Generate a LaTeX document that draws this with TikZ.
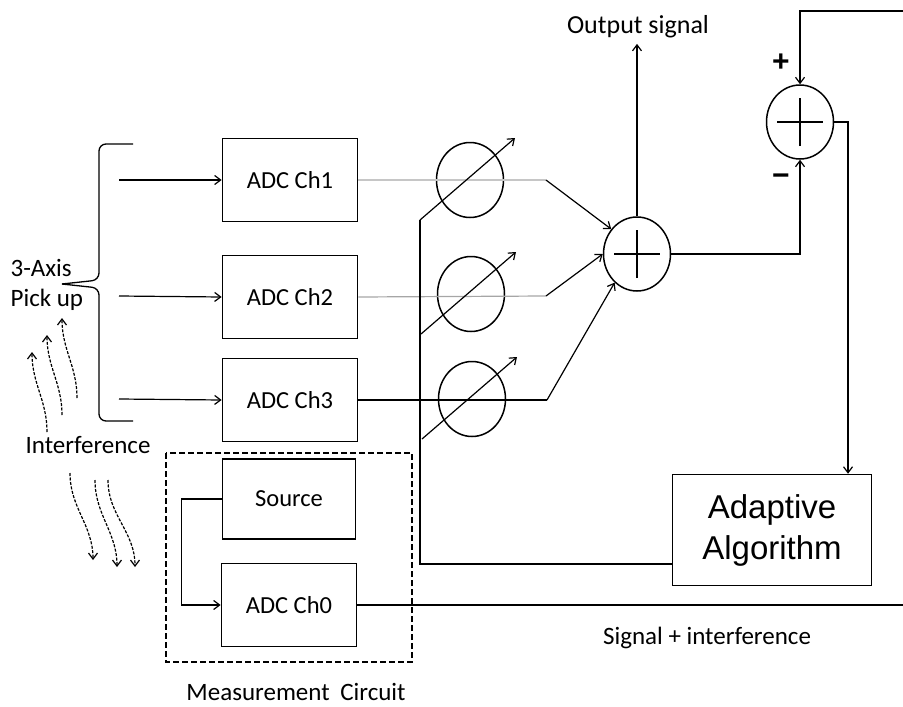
\documentclass[tikz,border=0pt]{standalone}
\usepackage{fontspec}
\setmainfont{Carlito}
\newfontfamily\arialfont{Liberation Sans}
\usetikzlibrary{arrows.meta,shapes.geometric}
\tikzset{
  blockbox/.style={draw, line width=1.8pt, minimum width=135pt, minimum height=83pt, inner sep=0pt, font=\fontsize{24.5}{29}\selectfont},
  weight/.style={draw, ellipse, line width=1.5pt, minimum width=67pt, minimum height=75pt, inner sep=0pt},
  sumnode/.style={draw, ellipse, line width=1.5pt, minimum width=67pt, minimum height=74pt, inner sep=0pt,
    path picture={\draw[line width=1.5pt] ([xshift=-23pt]path picture bounding box.center) -- ([xshift=23pt]path picture bounding box.center)
      ([yshift=-24pt]path picture bounding box.center) -- ([yshift=24pt]path picture bounding box.center);}},
  lbl/.style={inner sep=2pt, font=\fontsize{25}{30}\selectfont},
  sign/.style={inner sep=0pt, font=\arialfont\bfseries\fontsize{30}{30}\selectfont},
  wavy/.style={dash pattern=on 3pt off 1.5pt, line width=1.2pt},
}
\begin{document}
\begin{tikzpicture}[x=1pt, y=-1pt, line width=1.2pt, >={Straight Barb[length=6pt,width=9pt]}]
\useasboundingbox (0,0) rectangle (903,707);
\node[blockbox] (adc1) at (290,180) {ADC Ch1};
\node[blockbox] (adc2) at (290,297) {ADC Ch2};
\node[blockbox] (adc3) at (290,400) {ADC Ch3};
\node[blockbox, minimum width=133pt, minimum height=80pt] (src) at (289,499) {Source};
\node[blockbox] (adc0) at (289,605) {ADC Ch0};
\node[draw, line width=1.5pt, minimum width=199pt, minimum height=111pt, align=center, font=\arialfont\fontsize{33}{41}\selectfont] (alg) at (772,530) {Adaptive\\Algorithm};
\node[weight] (w1) at (470,180) {};
\node[weight] (w2) at (471,294) {};
\node[weight] (w3) at (472,399) {};
\node[sumnode] (sum1) at (637,254) {};
\node[sumnode] (sum2) at (800,122) {};
\node[lbl, align=left, anchor=west] (pick) at (8,285) {3-Axis\\Pick up};
\node[lbl] (intf) at (88,445) {Interference};
\node[lbl, font=\fontsize{26}{30}\selectfont] (outsig) at (638,27) {Output signal};
\node[lbl] (meas) at (296,692) {Measurement\hspace{0.2em} Circuit};
\node[lbl] (siglbl) at (707,638) {Signal + interference};
\node[sign] (plus) at (781,63) {+};
\node[sign] (minus) at (781,180) {−};
\coordinate (in1) at (119,180);
\coordinate (in2) at (119,296);
\coordinate (in3) at (119,399);
\coordinate (k1) at (546,180);
\coordinate (k2) at (546,296);
\coordinate (k3) at (547,400);
\coordinate (vtop) at (420,220);
\coordinate (vbot) at (420,564);
\coordinate (fb) at (903,11);
\coordinate (sigend) at (903,605);
\foreach \n in {1,2,3} \draw[->] (in\n) -- (adc\n.west);
\draw[gray!45] (adc1.east) -- (k1);
\draw[gray!70] (adc2.east) -- (k2);
\draw (adc3.east) -- (k3);
\draw[->] (k1) -- (sum1.136);
\draw[->] (k2) -- (sum1.180);
\draw[->] (k3) -- (sum1.232);
\draw[->, shorten >=3pt] (sum1.north) -- (sum1.north |- outsig.south);
\draw[->] (sum1.east) -| (sum2.south);
\draw[->] (fb) -| (sum2.north);
\draw[->] (sum2.east) -| ([xshift=76pt]alg.north);
\draw (alg.west |- vbot) -- (vbot) -- (vtop);
\foreach \n in {1,2,3} \draw[->] (w\n) ++(-50,40) -- ++(95,-82);
\draw (adc0.east) -- (sigend);
\draw[->] (src.west) -- ++(-40,0) |- (adc0.west);
\draw[line width=1.8pt, dash pattern=on 6pt off 3pt] (166,453) rectangle (412,662);
\draw[line width=1.3pt, rounded corners=7pt] (133,144) -- (99,144) -- (99,280) -- (62,284);
\draw[line width=1.3pt, rounded corners=7pt] (62,284) -- (99,288) -- (99,421) -- (133,421);
\foreach \i in {0,1,2} \draw[wavy,->] (47+15*\i,432-17*\i) to[out=90,in=-90] (32+15*\i,352-17*\i);
\foreach \a/\b/\c/\d in {70/473/93/560, 95/480/117/567, 108/480/135/567} \draw[wavy,->] (\a,\b) to[out=-90,in=90] (\c,\d);
\end{tikzpicture}
\end{document}
